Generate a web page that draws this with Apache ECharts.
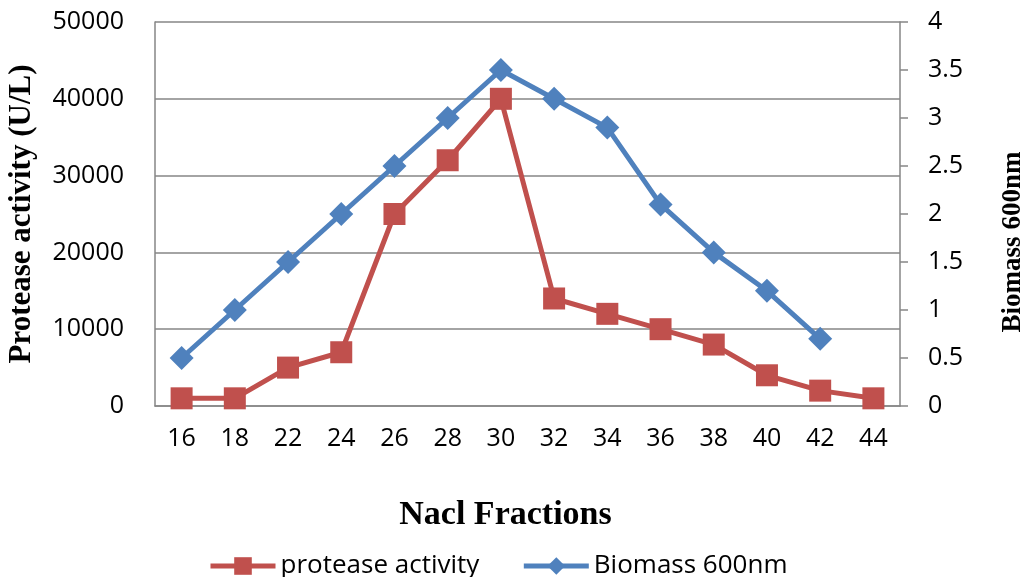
<!DOCTYPE html>
<html>
<head>
<meta charset="utf-8">
<script src="https://cdn.jsdelivr.net/npm/echarts@6/dist/echarts.min.js"></script>
<style>
  html, body { margin: 0; padding: 0; background: #fff; }
  #chart { width: 1026px; height: 577px; }
</style>
</head>
<body>
<div id="chart"></div>
<script>
// NaCl fraction categories (x axis)
const fractions = ['16', '18', '22', '24', '26', '28', '30', '32', '34', '36', '38', '40', '42', '44'];
// Protease activity, U/L (left axis)
const proteaseActivity = [1000, 1000, 5000, 7000, 25000, 32000, 40000, 14000, 12000, 10000, 8000, 4000, 2000, 1000];
// Biomass at 600 nm (right axis); no reading at 44
const biomass600 = [0.5, 1.0, 1.5, 2.0, 2.5, 3.0, 3.5, 3.2, 2.9, 2.1, 1.6, 1.2, 0.7, null];

const RED = '#C0504D';
const BLUE = '#4F81BD';
const AXIS_GRAY = '#868686';
const sansFont = '"Open Sans", "Noto Sans", sans-serif';
const serifFont = '"Liberation Serif", "DejaVu Serif", serif';

const chart = echarts.init(document.getElementById('chart'), null, { renderer: 'canvas' });

chart.setOption({
  animation: false,
  backgroundColor: '#ffffff',
  grid: { left: 155, right: 126, top: 22, bottom: 171, containLabel: false, outerBoundsMode: 'none' },
  legend: {
    bottom: -7,
    left: 203,
    itemWidth: 65,
    itemHeight: 22,
    itemGap: 42,
    lineStyle: { width: 5 },
    textStyle: { fontFamily: sansFont, fontSize: 26, color: '#000' },
    data: ['protease activity', 'Biomass 600nm']
  },
  xAxis: {
    type: 'category',
    data: fractions,
    boundaryGap: true,
    name: 'Nacl Fractions',
    nameLocation: 'middle',
    nameGap: 92,
    nameTextStyle: {
      fontFamily: serifFont, fontWeight: 'bold', fontSize: 34, color: '#000',
      padding: [0, 44, 0, 0]
    },
    axisLine: { lineStyle: { color: AXIS_GRAY, width: 1.5 } },
    axisTick: { show: false },
    axisLabel: { fontFamily: sansFont, fontSize: 25, color: '#000', margin: 20 }
  },
  yAxis: [
    {
      type: 'value',
      min: 0,
      max: 50000,
      interval: 10000,
      name: 'Protease activity (U/L)',
      nameLocation: 'middle',
      nameGap: 118,
      nameRotate: 90,
      nameTextStyle: { fontFamily: serifFont, fontWeight: 'bold', fontSize: 31, color: '#000' },
      axisLine: { show: true, lineStyle: { color: AXIS_GRAY, width: 1.5 } },
      axisTick: { show: false },
      axisLabel: {
        fontFamily: sansFont, fontSize: 25, color: '#000', margin: 31,
        formatter: (v) => String(v)
      },
      splitLine: { show: true, lineStyle: { color: AXIS_GRAY, width: 1.5 } }
    },
    {
      type: 'value',
      min: 0,
      max: 4,
      interval: 0.5,
      position: 'right',
      name: 'Biomass 600nm',
      nameLocation: 'middle',
      nameGap: 100,
      nameRotate: 90,
      nameTextStyle: {
        fontFamily: serifFont, fontWeight: 'bold', fontSize: 27, color: '#000',
        padding: [0, 56, 0, 0]
      },
      axisLine: { show: true, lineStyle: { color: AXIS_GRAY, width: 1.5 } },
      axisTick: { show: true, inside: false, length: 8, lineStyle: { color: AXIS_GRAY, width: 1.5 } },
      axisLabel: { fontFamily: sansFont, fontSize: 25, color: '#000', margin: 28 },
      splitLine: { show: false }
    }
  ],
  series: [
    {
      name: 'Biomass 600nm',
      type: 'line',
      yAxisIndex: 1,
      data: biomass600,
      symbol: 'diamond',
      symbolSize: 24,
      lineStyle: { color: BLUE, width: 5 },
      itemStyle: { color: BLUE },
      connectNulls: false,
      z: 2
    },
    {
      name: 'protease activity',
      type: 'line',
      yAxisIndex: 0,
      data: proteaseActivity,
      symbol: 'rect',
      symbolSize: 22,
      lineStyle: { color: RED, width: 5 },
      itemStyle: { color: RED },
      z: 3
    }
  ]
});
</script>
</body>
</html>
